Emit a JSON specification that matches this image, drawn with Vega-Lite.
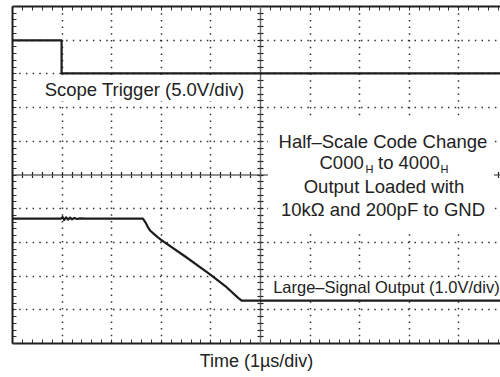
{
  "$schema": "https://vega.github.io/schema/vega-lite/v6.json",
  "width": 488,
  "height": 337,
  "autosize": {"type": "none"},
  "padding": {"left": 12, "top": 6, "right": 0, "bottom": 34},
  "background": "white",
  "config": {
    "view": {"stroke": null},
    "text": {"font": "Liberation Sans", "color": "#222222"},
    "axis": {"labels": false, "title": null}
  },
  "datasets": {
    "boxes": [
      {"x1": 0.48, "x2": 4.92, "y1": 7.17, "y2": 7.93},
      {"x1": 5.16, "x2": 9.72, "y1": 3.28, "y2": 6.7},
      {"x1": 5.2, "x2": 9.84, "y1": 1.3, "y2": 1.94}
    ],
    "traces": [
      {"series": "Scope Trigger", "i": 0, "t": 0, "v": 8.98},
      {"series": "Scope Trigger", "i": 1, "t": 1.0, "v": 8.98},
      {"series": "Scope Trigger", "i": 2, "t": 1.0, "v": 8.0},
      {"series": "Scope Trigger", "i": 3, "t": 9.84, "v": 8.0},
      {"series": "Large-Signal Output", "i": 0, "t": 0, "v": 3.69},
      {"series": "Large-Signal Output", "i": 1, "t": 0.99, "v": 3.69},
      {"series": "Large-Signal Output", "i": 2, "t": 1.02, "v": 3.74},
      {"series": "Large-Signal Output", "i": 3, "t": 1.05, "v": 3.65},
      {"series": "Large-Signal Output", "i": 4, "t": 1.09, "v": 3.73},
      {"series": "Large-Signal Output", "i": 5, "t": 1.13, "v": 3.66},
      {"series": "Large-Signal Output", "i": 6, "t": 1.17, "v": 3.72},
      {"series": "Large-Signal Output", "i": 7, "t": 1.21, "v": 3.67},
      {"series": "Large-Signal Output", "i": 8, "t": 1.26, "v": 3.71},
      {"series": "Large-Signal Output", "i": 9, "t": 1.31, "v": 3.68},
      {"series": "Large-Signal Output", "i": 10, "t": 1.37, "v": 3.7},
      {"series": "Large-Signal Output", "i": 11, "t": 1.5, "v": 3.69},
      {"series": "Large-Signal Output", "i": 12, "t": 2.0, "v": 3.69},
      {"series": "Large-Signal Output", "i": 13, "t": 2.64, "v": 3.69},
      {"series": "Large-Signal Output", "i": 14, "t": 2.69, "v": 3.58},
      {"series": "Large-Signal Output", "i": 15, "t": 2.74, "v": 3.44},
      {"series": "Large-Signal Output", "i": 16, "t": 2.79, "v": 3.33},
      {"series": "Large-Signal Output", "i": 17, "t": 2.86, "v": 3.24},
      {"series": "Large-Signal Output", "i": 18, "t": 2.93, "v": 3.15},
      {"series": "Large-Signal Output", "i": 19, "t": 3.0, "v": 3.07},
      {"series": "Large-Signal Output", "i": 20, "t": 3.5, "v": 2.56},
      {"series": "Large-Signal Output", "i": 21, "t": 4.0, "v": 2.03},
      {"series": "Large-Signal Output", "i": 22, "t": 4.3, "v": 1.69},
      {"series": "Large-Signal Output", "i": 23, "t": 4.56, "v": 1.34},
      {"series": "Large-Signal Output", "i": 24, "t": 4.63, "v": 1.26},
      {"series": "Large-Signal Output", "i": 25, "t": 9.84, "v": 1.26}
    ],
    "bigCentered": [
      {"label": "Scope Trigger (5.0V/div)", "x": 2.67, "y": 7.33},
      {"label": "Half–Scale Code Change", "x": 7.48, "y": 5.8},
      {"label": "Output Loaded with", "x": 7.5, "y": 4.46},
      {"label": "10kΩ and 200pF to GND", "x": 7.48, "y": 3.76}
    ],
    "bigLeft": [
      {"label": "C000", "x": 6.2, "y": 5.15},
      {"label": "to 4000", "x": 7.38, "y": 5.15}
    ],
    "subs": [
      {"label": "H", "x": 7.13, "y": 5.03},
      {"label": "H", "x": 8.64, "y": 5.03}
    ],
    "outputLabel": [
      {"label": "Large–Signal Output (1.0V/div)", "x": 7.55, "y": 1.49}
    ]
  },
  "resolve": {"axis": {"x": "independent", "y": "independent"}},
  "layer": [
    {
      "data": {"name": "boxes"},
      "mark": {"type": "rect", "fill": "white", "stroke": null},
      "encoding": {
        "x": {"field": "x1", "type": "quantitative", "scale": {"domain": [0, 9.84], "nice": false, "zero": false},
          "axis": {"orient": "bottom", "values": [0,0.2,0.4,0.6,0.8,1,1.2,1.4,1.6,1.8,2,2.2,2.4,2.6,2.8,3,3.2,3.4,3.6,3.8,4,4.2,4.4,4.6,4.8,5,5.2,5.4,5.6,5.8,6,6.2,6.4,6.6,6.8,7,7.2,7.4,7.6,7.8,8,8.2,8.4,8.6,8.8,9,9.2,9.4,9.6,9.8],
            "grid": false, "labels": false, "domain": true, "domainColor": "#1e1e1e", "domainWidth": 2,
            "ticks": true, "tickSize": -4, "tickColor": "#333333", "tickWidth": 1,
            "title": "Time (1µs/div)", "titleFont": "Liberation Sans", "titleFontSize": 18, "titleFontWeight": "normal", "titleColor": "#222222", "titlePadding": 9}},
        "x2": {"field": "x2"},
        "y": {"field": "y1", "type": "quantitative", "scale": {"domain": [0, 10], "nice": false, "zero": false},
          "axis": {"orient": "left", "values": [0,0.2,0.4,0.6,0.8,1,1.2,1.4,1.6,1.8,2,2.2,2.4,2.6,2.8,3,3.2,3.4,3.6,3.8,4,4.2,4.4,4.6,4.8,5,5.2,5.4,5.6,5.8,6,6.2,6.4,6.6,6.8,7,7.2,7.4,7.6,7.8,8,8.2,8.4,8.6,8.8,9,9.2,9.4,9.6,9.8,10],
            "grid": false, "labels": false, "domain": true, "domainColor": "#1e1e1e", "domainWidth": 2,
            "ticks": true, "tickSize": -4, "tickColor": "#333333", "tickWidth": 1, "title": null}},
        "y2": {"field": "y2"}
      }
    },
    {
      "data": {"name": "traces"},
      "mark": {"type": "line", "color": "#1c1c1c", "strokeWidth": 2.2, "strokeJoin": "round"},
      "encoding": {
        "x": {"field": "t", "type": "quantitative", "scale": {"domain": [0, 9.84], "nice": false, "zero": false},
          "axis": {"orient": "top", "values": [0,0.2,0.4,0.6,0.8,1,1.2,1.4,1.6,1.8,2,2.2,2.4,2.6,2.8,3,3.2,3.4,3.6,3.8,4,4.2,4.4,4.6,4.8,5,5.2,5.4,5.6,5.8,6,6.2,6.4,6.6,6.8,7,7.2,7.4,7.6,7.8,8,8.2,8.4,8.6,8.8,9,9.2,9.4,9.6,9.8],
            "grid": false, "labels": false, "domain": true, "domainColor": "#1e1e1e", "domainWidth": 2,
            "ticks": true, "tickSize": -4, "tickColor": "#333333", "tickWidth": 1, "title": null}},
        "y": {"field": "v", "type": "quantitative", "scale": {"domain": [0, 10], "nice": false, "zero": false},
          "axis": {"orient": "left", "values": [1,2,3,4,6,7,8,9], "grid": true, "gridDash": [1.5, 5.2], "gridColor": "#333333", "gridWidth": 1.5,
            "labels": false, "domain": false, "ticks": false, "title": null}},
        "detail": {"field": "series"},
        "order": {"field": "i", "type": "quantitative"}
      }
    },
    {
      "data": {"name": "bigCentered"},
      "mark": {"type": "text", "font": "Liberation Sans", "fontSize": 18.5, "align": "center", "baseline": "alphabetic", "color": "#222222"},
      "encoding": {
        "x": {"field": "x", "type": "quantitative", "scale": {"domain": [0, 9.84], "nice": false, "zero": false},
          "axis": {"orient": "bottom", "values": [1,2,3,4,6,7,8,9], "grid": true, "gridDash": [1.5, 5.2], "gridColor": "#333333", "gridWidth": 1.5,
            "labels": false, "domain": false, "ticks": false, "title": null}},
        "y": {"field": "y", "type": "quantitative", "scale": {"domain": [0, 10], "nice": false, "zero": false},
          "axis": {"orient": "left", "offset": -248, "values": [0.2,0.4,0.6,0.8,1,1.2,1.4,1.6,1.8,2,2.2,2.4,2.6,2.8,3,3.2,3.4,3.6,3.8,4,4.2,4.4,4.6,4.8,5,5.2,5.4,5.6,5.8,6,6.2,6.4,6.6,6.8,7,7.2,7.4,7.6,7.8,8,8.2,8.4,8.6,8.8,9,9.2,9.4,9.6,9.8],
            "grid": false, "labels": false, "domain": true, "domainColor": "#6a6a6a", "domainWidth": 1.4,
            "ticks": true, "tickSize": 3, "tickColor": "#222222", "tickWidth": 1.2, "title": null}},
        "text": {"field": "label"}
      }
    },
    {
      "data": {"name": "bigLeft"},
      "mark": {"type": "text", "font": "Liberation Sans", "fontSize": 18.5, "align": "left", "baseline": "alphabetic", "color": "#222222"},
      "encoding": {
        "x": {"field": "x", "type": "quantitative", "scale": {"domain": [0, 9.84], "nice": false, "zero": false},
          "axis": {"orient": "bottom", "offset": -168.5, "values": [0.2,0.4,0.6,0.8,1,1.2,1.4,1.6,1.8,2,2.2,2.4,2.6,2.8,3,3.2,3.4,3.6,3.8,4,4.2,4.4,4.6,4.8,5,5.2,5.4,5.6,5.8,6,6.2,6.4,6.6,6.8,7,7.2,7.4,7.6,7.8,8,8.2,8.4,8.6,8.8,9,9.2,9.4,9.6,9.8],
            "grid": false, "labels": false, "domain": true, "domainColor": "#6a6a6a", "domainWidth": 1.4,
            "ticks": true, "tickSize": 3, "tickColor": "#222222", "tickWidth": 1.2, "title": null}},
        "y": {"field": "y", "type": "quantitative", "scale": {"domain": [0, 10], "nice": false, "zero": false},
          "axis": {"orient": "left", "offset": -248, "values": [0.2,0.4,0.6,0.8,1,1.2,1.4,1.6,1.8,2,2.2,2.4,2.6,2.8,3,3.2,3.4,3.6,3.8,4,4.2,4.4,4.6,4.8,5,5.2,5.4,5.6,5.8,6,6.2,6.4,6.6,6.8,7,7.2,7.4,7.6,7.8,8,8.2,8.4,8.6,8.8,9,9.2,9.4,9.6,9.8],
            "grid": false, "labels": false, "domain": false,
            "ticks": true, "tickSize": -3, "tickColor": "#222222", "tickWidth": 1.2, "title": null}},
        "text": {"field": "label"}
      }
    },
    {
      "data": {"name": "subs"},
      "mark": {"type": "text", "font": "Liberation Sans", "fontSize": 11, "align": "left", "baseline": "alphabetic", "color": "#222222"},
      "encoding": {
        "x": {"field": "x", "type": "quantitative", "scale": {"domain": [0, 9.84], "nice": false, "zero": false},
          "axis": {"orient": "bottom", "offset": -168.5, "values": [0.2,0.4,0.6,0.8,1,1.2,1.4,1.6,1.8,2,2.2,2.4,2.6,2.8,3,3.2,3.4,3.6,3.8,4,4.2,4.4,4.6,4.8,5,5.2,5.4,5.6,5.8,6,6.2,6.4,6.6,6.8,7,7.2,7.4,7.6,7.8,8,8.2,8.4,8.6,8.8,9,9.2,9.4,9.6,9.8],
            "grid": false, "labels": false, "domain": false,
            "ticks": true, "tickSize": -3, "tickColor": "#222222", "tickWidth": 1.2, "title": null}},
        "y": {"field": "y", "type": "quantitative", "scale": {"domain": [0, 10], "nice": false, "zero": false}, "axis": null},
        "text": {"field": "label"}
      }
    },
    {
      "data": {"name": "outputLabel"},
      "mark": {"type": "text", "font": "Liberation Sans", "fontSize": 16.5, "align": "center", "baseline": "alphabetic", "color": "#222222"},
      "encoding": {
        "x": {"field": "x", "type": "quantitative", "scale": {"domain": [0, 9.84], "nice": false, "zero": false}, "axis": null},
        "y": {"field": "y", "type": "quantitative", "scale": {"domain": [0, 10], "nice": false, "zero": false}, "axis": null},
        "text": {"field": "label"}
      }
    }
  ]
}
